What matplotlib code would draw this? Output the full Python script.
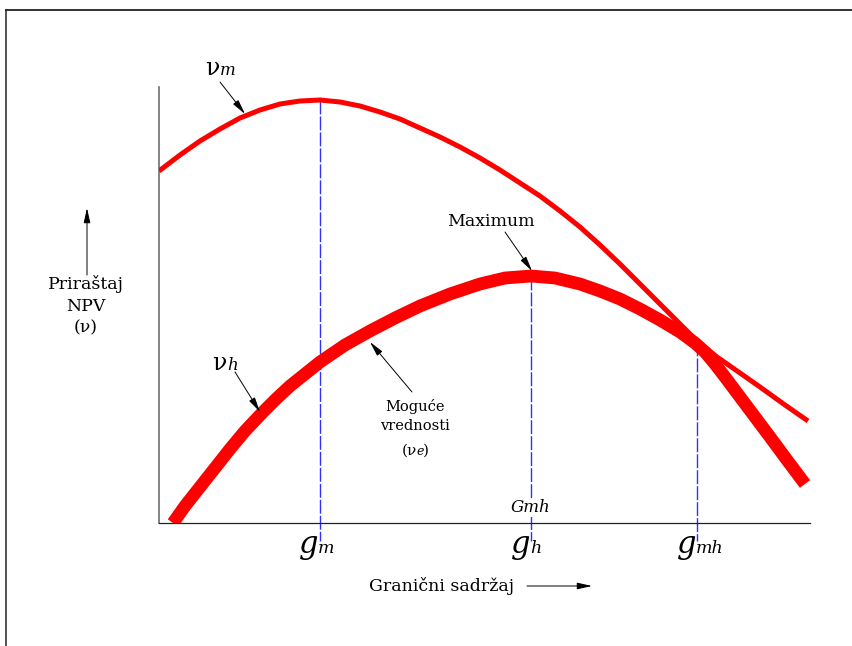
import matplotlib.pyplot as plt
from matplotlib.lines import Line2D

# krive prirastaja NPV u zavisnosti od granicnog sadrzaja (x od leve ose, y od donje ose)
vm_x = [0, 21, 41, 61, 81, 101, 121, 141, 161, 181, 201, 221, 241, 261, 281, 301, 321, 341,
        361, 381, 401, 421, 441, 461, 481, 501, 521, 536, 547, 558, 581, 601, 626, 649]
vm_y = [352, 368, 382, 394, 405, 413, 419, 422, 423, 421, 417, 411, 404, 395, 386, 376, 365, 353,
        340, 327, 312, 296, 278, 259, 239, 219, 199, 184, 175, 166, 150, 136, 118, 102]

vh_x = [14, 26, 41, 56, 71, 86, 103, 117, 131, 146, 161, 186, 211, 236, 261, 291, 321, 346,
        372, 396, 421, 441, 461, 481, 501, 521, 536, 546, 556, 566, 581, 596, 611, 628, 646]
vh_y = [0, 17, 36, 55, 74, 92, 110, 124, 137, 149, 161, 178, 192, 205, 217, 229, 239, 245,
        247, 245, 239, 232, 224, 214, 203, 191, 180, 171, 159, 146, 126, 106, 86, 63, 39]

# granicni sadrzaji gm, gh, gmh i vrednosti krivih u tim tackama
g_x = [161, 372, 538]
g_top = [423, 247, 181]
g_sub = ['m', 'h', 'mh']

FONT = 'DejaVu Serif'
plt.rcParams['font.family'] = FONT

fig = plt.figure(figsize=(8.53, 6.46), dpi=100)
ax = fig.add_axes([159 / 853, 123 / 646, 651 / 853, 436 / 646])
ax.set_xlim(0, 651)
ax.set_ylim(0, 436)
ax.set_xticks([])
ax.set_yticks([])
for s in ['top', 'right']:
    ax.spines[s].set_visible(False)
ax.spines['left'].set_color('#707070')
ax.spines['left'].set_linewidth(1.2)
ax.spines['bottom'].set_color('#222222')
ax.spines['bottom'].set_linewidth(0.9)

# okvir slike
fig.add_artist(Line2D([6 / 853, 1], [1 - 9.5 / 646] * 2, color='#222222', lw=1.3))
fig.add_artist(Line2D([6 / 853] * 2, [0, 1 - 9.5 / 646], color='#222222', lw=1.1))

ax.plot(vm_x, vm_y, color='red', lw=3.6, solid_joinstyle='round', solid_capstyle='butt', zorder=3)
ax.plot(vh_x, vh_y, color='red', lw=9.2, solid_joinstyle='round', solid_capstyle='butt', zorder=3)

for x, top in zip(g_x, g_top):
    ax.plot([x, x], [top, -18], color='#3030ff', lw=1.0, dashes=(10, 1.5), clip_on=False, zorder=2)


def sym(x, y, base, sub, size, subsize, base_style='normal'):
    ax.text(x, y, base, fontsize=size, style=base_style, ha='right', va='baseline', clip_on=False)
    ax.text(x, y, sub, fontsize=subsize, style='italic', ha='left', va='baseline', clip_on=False)


for x, s in zip(g_x, g_sub):
    sym(x - 2 + (1 if s != 'm' else 0), -30, 'g', s, 22, 12.5, base_style='italic')

sym(61, 448, 'ν', 'm', 17, 12)
sym(68, 153, 'ν', 'h', 17, 12)

ax.text(372, 15, 'Gmh', fontsize=12, style='italic', ha='center', va='center', zorder=4,
        bbox=dict(facecolor='white', edgecolor='none', pad=0.5))

arrow = dict(arrowstyle='-|>,head_length=0.9,head_width=0.2', color='black', lw=0.7, shrinkA=0, shrinkB=0)
ax.annotate('', xy=(86, 409), xytext=(61, 441), arrowprops=arrow)
ax.annotate('', xy=(101, 111), xytext=(76, 151), arrowprops=arrow)

ax.text(332, 302, 'Maximum', fontsize=12.5, ha='center', va='center')
ax.annotate('', xy=(373, 252), xytext=(346, 291), arrowprops=arrow)

ax.text(256, 107, 'Moguće\nvrednosti', fontsize=10.5, ha='center', va='center', linespacing=1.45)
ax.text(258.5, 68, '(ν', fontsize=11, ha='right', va='baseline')
ax.text(257.5, 68, 'e', fontsize=9, style='italic', ha='left', va='baseline')
ax.text(264, 68, ')', fontsize=11, ha='left', va='baseline')
ax.annotate('', xy=(211, 181), xytext=(253, 131), arrowprops=arrow)

# oznake osa
ax.text(-73, 217, 'Priraštaj\nNPV\n(ν)', fontsize=12.5, ha='center', va='center', linespacing=1.35,
        clip_on=False)
ax.annotate('', xy=(-72, 315), xytext=(-72, 248), arrowprops=arrow, annotation_clip=False)

ax.text(283, -63, 'Granični sadržaj', fontsize=12.5, ha='center', va='center', clip_on=False)
ax.annotate('', xy=(433, -63), xytext=(368, -63), arrowprops=arrow, annotation_clip=False)

fig.savefig('out.png', dpi=100, facecolor='white')
